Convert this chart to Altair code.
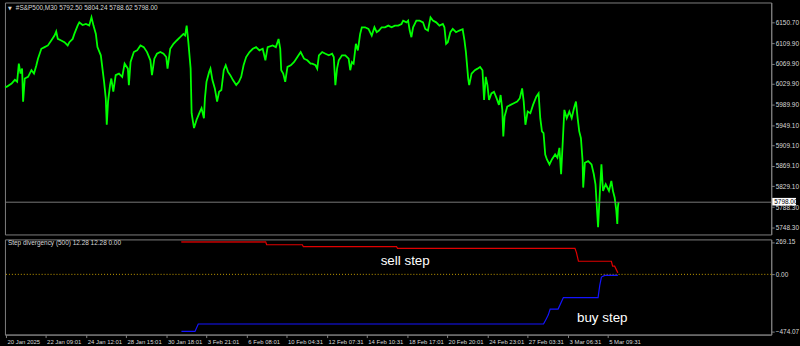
import json
import altair as alt
import pandas as pd

# ---------------- price pane: bar position and close ----------------
price_bar = [0, 1.7, 6.7, 10, 12.3, 14, 15.7, 17.3, 18.3, 20, 23.3, 26.7, 29.3, 31.7, 33.3, 36.7, 40, 43.3,
             46.7, 50, 51.7, 53.3, 56.7, 60, 63.3, 65, 68.3, 70, 73.3, 75, 78.3, 81.7, 85, 87.3, 89.3, 91.7,
             93.3, 96.7, 100, 101.7, 102.7, 104, 106, 107.3, 109.3, 111.7, 115, 118.3, 120.7, 124, 125, 126.7,
             130, 133.3, 136.7, 140, 143.3, 146.7, 148.3, 150.7, 153.3, 156.7, 160, 162.7, 164, 166.7, 170,
             173.3, 176.7, 180, 181.7, 183.3, 185, 187.3, 188.3, 190.7, 193.3, 196.7, 198.3, 200.7, 201.7,
             203.3, 206, 207.3, 209.3, 211.7, 214, 216, 218.3, 220.7, 222.7, 225, 227.3, 230, 233.3, 236,
             238.3, 240.7, 243.3, 246.7, 250, 253.3, 256.7, 260, 262.7, 265, 270, 273.3, 276, 277.7, 278.7,
             280.7, 282.7, 285, 288.3, 291.7, 295, 298.3, 301.7, 305, 308.3, 310, 313.3, 315, 316.7, 320,
             323.3, 326.7, 330, 331.7, 333.3, 335, 336.7, 340, 343.3, 346.7, 348.3, 350, 351.7, 354, 356,
             358.3, 360, 363.3, 366.7, 370, 372.7, 375, 377.3, 380, 383.3, 386.7, 390, 393.3, 396.7, 400,
             401.7, 405, 406.7, 408.3, 410, 411.7, 415, 418.3, 421.7, 424, 426.7, 429.3, 431.7, 435, 438.3,
             441.7, 443.3, 445, 446.7, 449.3, 451.7, 455, 458.3, 461.7, 463.5, 465, 467.3, 468.3, 470.7, 474,
             476.7, 479.3, 481.7, 483.3, 485, 486.7, 488.3, 490.7, 493.3, 496, 498.3, 500, 501.7, 502.7, 504,
             506.7, 510, 513.3, 516.7, 519.3, 521.7, 523.3, 525, 527.3, 530, 532.7, 536, 538.3, 540, 541.7,
             543.3, 545, 546.7, 549.3, 551.7, 555, 557.3, 559.3, 561, 562.7, 564.3, 566.7, 569.3, 571.7, 574,
             576, 577.7, 579.3, 581, 582.7, 583.3, 585, 588.3, 591.7, 594, 595.7, 597.3, 598.3, 600, 601.7,
             603.3, 606, 609.3, 611.7, 613.3, 615, 616.7, 617.7, 618.3, 619]
price_close = [6024.3, 6024.3, 6030.8, 6037.9, 6034.1, 6069.6, 6050.2, 6059.9, 5995.2, 6040.5, 6043.8, 6056.8,
               6050.2, 6066.5, 6079.4, 6098.8, 6102.1, 6105.4, 6115.1, 6124.8, 6132.6, 6118.2, 6115.1, 6111.8,
               6105.4, 6111.8, 6118.2, 6128.0, 6144.3, 6150.7, 6145.4, 6147.4, 6144.3, 6160.4, 6144.3, 6128.0,
               6102.1, 6086.0, 6034.1, 6001.6, 5949.9, 5995.2, 6027.6, 6040.5, 6014.6, 6047.1, 6050.2, 6043.8,
               6069.6, 6059.9, 6027.6, 6072.9, 6092.4, 6095.7, 6105.4, 6102.1, 6092.4, 6076.2, 6047.1, 6079.4,
               6089.1, 6092.4, 6089.1, 6082.6, 6059.9, 6098.8, 6108.5, 6115.1, 6121.5, 6128.0, 6124.8, 6144.3,
               6111.8, 6059.9, 5972.4, 5943.3, 5959.6, 5975.7, 5982.2, 5962.7, 6001.6, 6034.1, 6053.5, 6059.9,
               6037.4, 6021.0, 5995.2, 6014.6, 6017.9, 6056.8, 6066.5, 6053.5, 6047.1, 6037.4, 6027.6, 6034.1,
               6043.8, 6066.5, 6082.6, 6092.4, 6098.8, 6102.1, 6095.7, 6098.8, 6076.2, 6102.1, 6105.4, 6102.1,
               6118.2, 6098.8, 6056.8, 6050.2, 6034.1, 6063.2, 6066.5, 6072.9, 6082.6, 6092.4, 6079.4, 6076.2,
               6069.6, 6069.6, 6066.5, 6059.9, 6086.0, 6092.4, 6089.1, 6086.0, 6089.1, 6082.6, 6027.6, 6059.9,
               6076.2, 6086.0, 6086.0, 6079.4, 6056.8, 6072.9, 6069.6, 6108.5, 6095.7, 6128.0, 6141.0, 6141.0,
               6137.7, 6124.8, 6141.0, 6131.3, 6134.6, 6141.0, 6141.0, 6144.3, 6141.0, 6144.3, 6144.3, 6147.4,
               6154.0, 6150.7, 6154.0, 6134.6, 6121.5, 6141.0, 6154.0, 6154.0, 6150.7, 6137.7, 6134.6, 6160.4,
               6154.0, 6150.7, 6144.3, 6147.4, 6141.0, 6108.5, 6111.8, 6131.3, 6137.7, 6131.3, 6134.6, 6137.1,
               6115.7, 6092.4, 6040.5, 6027.6, 6050.2, 6056.8, 6059.9, 6063.2, 6056.8, 5998.5, 6043.8, 6027.6,
               5998.5, 6011.3, 6014.6, 6001.6, 5988.8, 6008.2, 5979.0, 5927.1, 5966.0, 5985.5, 5988.8, 5991.9,
               5995.2, 6001.6, 6021.0, 5995.2, 5949.9, 5975.7, 5972.4, 5988.8, 6004.9, 6011.3, 5962.7, 5936.9,
               5933.6, 5891.6, 5881.8, 5872.1, 5881.8, 5891.6, 5885.0, 5904.4, 5852.7, 5917.4, 5979.0, 5962.7,
               5975.7, 5962.7, 5982.2, 5995.2, 5962.7, 5936.9, 5923.8, 5878.5, 5826.6, 5875.2, 5878.5, 5872.1,
               5852.7, 5833.2, 5781.3, 5748.9, 5813.8, 5872.1, 5820.2, 5833.2, 5820.2, 5839.7, 5820.2, 5807.2,
               5781.3, 5755.5, 5787.8, 5798.0]

# ---------------- indicator pane ----------------
sell_bar = [178, 263, 264, 300, 301, 395, 396, 575, 576.5, 578.5, 611.7, 613, 615, 618.3]
sell_val = [269.15, 269.15, 246, 246, 230, 230, 216, 216, 180, 109, 109, 68, 68, 12.28]
buy_bar = [178, 191.7, 195, 543.3, 546, 548, 550, 558, 563.3, 598.3, 600, 601.7, 605, 618.3]
buy_val = [-474.07, -474.07, -412, -412, -370, -338, -288.5, -288.5, -193, -193, -91, -22.6, -8.6, -8.6]

# ---------------- axes ----------------
tick_bar = [1, 41, 82, 122, 163, 203, 244, 284, 325, 365, 406, 446, 487, 527, 568, 608]
tick_label = ["20 Jan 2025", "22 Jan 09:01", "24 Jan 12:01", "28 Jan 15:01", "30 Jan 18:01",
              "3 Feb 21:01", "6 Feb 08:01", "10 Feb 04:31", "12 Feb 07:31", "14 Feb 10:31",
              "18 Feb 17:01", "20 Feb 20:01", "24 Feb 23:01", "27 Feb 03:31", "3 Mar 06:31", "5 Mar 09:31"]
price_ticks = [6150.70, 6109.90, 6069.90, 6029.90, 5989.90, 5949.10, 5909.10, 5869.10, 5829.10, 5788.30, 5748.30]
ind_ticks = [269.15, 0.0, -474.07]
last_price = 5798.00
header = "#S&P500,M30  5792.50 5804.24 5788.62 5798.00"
ind_header = "Step divergency (500) 12.28 12.28 0.00"

FONT = "Liberation Sans Narrow, Liberation Sans, Arial"
LBL = "#d8d8d8"
GRAY = "#808080"
W = 773

xscale = alt.Scale(domain=[0, W], nice=False, zero=False)
yprice = alt.Scale(domain=[5734.7, 6189.6], nice=False, zero=False)
yind = alt.Scale(domain=[-500, 290], nice=False, zero=False)

label_expr = f"{json.dumps(tick_label)}[indexof({json.dumps(tick_bar)}, datum.value)]"

y_top_axis = alt.Axis(orient="right", values=price_ticks, format=".2f", title=None,
                      labelOverlap=False, labelBound=False)
y_bot_axis = alt.Axis(orient="right", values=ind_ticks, format=".2f", title=None,
                      labelOverlap=False, labelBound=False)
x_bot_axis = alt.Axis(values=tick_bar, labelExpr=label_expr, labelAlign="left", labelOffset=1,
                      labelBaseline="top", labelFontSize=6, labelOverlap=False, labelBound=False,
                      title=None)

price_df = pd.DataFrame({"bar": price_bar, "close": price_close})
sell_df = pd.DataFrame({"bar": sell_bar, "v": sell_val})
buy_df = pd.DataFrame({"bar": buy_bar, "v": buy_val})
last_df = pd.DataFrame({"p": [last_price], "t": [f"{last_price:.2f}"]})

price_line = alt.Chart(price_df).mark_line(color="#00ff00", strokeWidth=1.8).encode(
    x=alt.X("bar:Q", scale=xscale, axis=None),
    y=alt.Y("close:Q", scale=yprice, axis=y_top_axis),
)
cur_rule = alt.Chart(last_df).mark_rule(color="#787878", strokeWidth=1).encode(
    y=alt.Y("p:Q", scale=yprice, axis=y_top_axis))
box = alt.Chart(last_df).mark_point(
    shape="M-1,-0.36L1,-0.36L1,0.28L-1,0.28Z", size=576, filled=True, color="white", opacity=1
).encode(x=alt.value(786), y=alt.Y("p:Q", scale=yprice, axis=y_top_axis))
box_text = alt.Chart(last_df).mark_text(
    align="left", baseline="middle", font=FONT, fontSize=6.5, color="black"
).encode(x=alt.value(776), y=alt.Y("p:Q", scale=yprice, axis=y_top_axis), text="t:N")
tri = alt.Chart(pd.DataFrame({"t": ["▼"]})).mark_text(
    align="left", baseline="middle", font="DejaVu Sans", fontSize=5, color=LBL
).encode(x=alt.value(3), y=alt.value(6), text="t:N")
head = alt.Chart(pd.DataFrame({"t": [header]})).mark_text(
    align="left", baseline="middle", font=FONT, fontSize=6.5, color=LBL
).encode(x=alt.value(11), y=alt.value(6), text="t:N")

top = alt.layer(price_line, cur_rule, box, box_text, tri, head).properties(width=W, height=234)

zero_rule = alt.Chart(pd.DataFrame({"z": [0.0]})).mark_rule(
    color="#c8a000", strokeWidth=1, strokeDash=[1, 2]
).encode(y=alt.Y("z:Q", scale=yind, axis=y_bot_axis))
sell_bright = alt.Chart(sell_df).mark_line(color="#e00000", strokeWidth=1.2).encode(
    x=alt.X("bar:Q", scale=xscale, axis=x_bot_axis),
    y=alt.Y("v:Q", scale=yind, axis=y_bot_axis),
)
sell_dark = alt.Chart(sell_df).transform_filter("datum.bar <= 263").mark_line(
    color="#9a0000", strokeWidth=1.4
).encode(x=alt.X("bar:Q", scale=xscale, axis=x_bot_axis), y=alt.Y("v:Q", scale=yind, axis=y_bot_axis))
buy_line = alt.Chart(buy_df).mark_line(color="#1414ff", strokeWidth=1.2).encode(
    x=alt.X("bar:Q", scale=xscale, axis=x_bot_axis), y=alt.Y("v:Q", scale=yind, axis=y_bot_axis))
ind_head = alt.Chart(pd.DataFrame({"t": [ind_header]})).mark_text(
    align="left", baseline="middle", font=FONT, fontSize=6.5, color=LBL
).encode(x=alt.value(3), y=alt.value(4), text="t:N")
sell_txt = alt.Chart(pd.DataFrame({"t": ["sell step"]})).mark_text(
    align="left", baseline="middle", font="Liberation Sans", fontSize=13.5, color="white"
).encode(x=alt.value(379), y=alt.value(22), text="t:N")
buy_txt = alt.Chart(pd.DataFrame({"t": ["buy step"]})).mark_text(
    align="left", baseline="middle", font="Liberation Sans", fontSize=13.5, color="white"
).encode(x=alt.value(577), y=alt.value(79), text="t:N")

bottom = alt.layer(zero_rule, sell_bright, sell_dark, buy_line, ind_head, sell_txt, buy_txt).properties(
    width=W, height=96)

chart = alt.vconcat(top, bottom, spacing=3).properties(
    background="black", padding={"left": 0, "top": 0, "right": 0, "bottom": 0}
).configure_view(stroke=GRAY, strokeWidth=1).configure_axis(
    labelFont=FONT, labelFontSize=6.5, labelColor=LBL, tickColor=GRAY, tickSize=3,
    domainColor=GRAY, grid=False, labelPadding=1, titleColor=LBL, labelOverlap=False
)

chart.save("out.html", embed_options={"renderer": "svg", "actions": False})
